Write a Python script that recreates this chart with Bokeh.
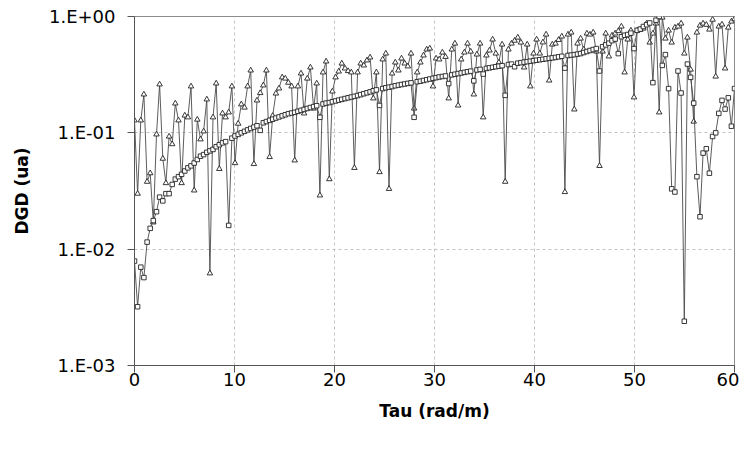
from bokeh.plotting import figure
from bokeh.models import Range1d, FixedTicker, CustomJSTickFormatter
from bokeh.embed import file_html
from bokeh.resources import INLINE

# Tau grid (rad/m)
TAU = [0.00, 0.31, 0.63, 0.94, 1.26, 1.57, 1.88, 2.20, 2.51, 2.83, 3.14, 3.46, 3.77, 4.08, 4.40, 4.71,
       5.03, 5.34, 5.65, 5.97, 6.28, 6.60, 6.91, 7.23, 7.54, 7.85, 8.17, 8.48, 8.80, 9.11, 9.42, 9.74,
       10.05, 10.37, 10.68, 11.00, 11.31, 11.62, 11.94, 12.25, 12.57, 12.88, 13.19, 13.51, 13.82, 14.14, 14.45, 14.77,
       15.08, 15.39, 15.71, 16.02, 16.34, 16.65, 16.96, 17.28, 17.59, 17.91, 18.22, 18.54, 18.85, 19.16, 19.48, 19.79,
       20.11, 20.42, 20.73, 21.05, 21.36, 21.68, 21.99, 22.31, 22.62, 22.93, 23.25, 23.56, 23.88, 24.19, 24.50, 24.82,
       25.13, 25.45, 25.76, 26.08, 26.39, 26.70, 27.02, 27.33, 27.65, 27.96, 28.27, 28.59, 28.90, 29.22, 29.53, 29.85,
       30.16, 30.47, 30.79, 31.10, 31.42, 31.73, 32.04, 32.36, 32.67, 32.99, 33.30, 33.62, 33.93, 34.24, 34.56, 34.87,
       35.19, 35.50, 35.81, 36.13, 36.44, 36.76, 37.07, 37.39, 37.70, 38.01, 38.33, 38.64, 38.96, 39.27, 39.58, 39.90,
       40.21, 40.53, 40.84, 41.16, 41.47, 41.78, 42.10, 42.41, 42.73, 43.04, 43.35, 43.67, 43.98, 44.30, 44.61, 44.92,
       45.24, 45.55, 45.87, 46.18, 46.50, 46.81, 47.12, 47.44, 47.75, 48.07, 48.38, 48.69, 49.01, 49.32, 49.64, 49.95,
       50.27, 50.58, 50.89, 51.21, 51.52, 51.84, 52.15, 52.47, 52.78, 53.09, 53.41, 53.72, 54.04, 54.35, 54.66, 54.98,
       55.29, 55.61, 55.92, 56.24, 56.55, 56.86, 57.18, 57.49, 57.81, 58.12, 58.43, 58.75, 59.06, 59.38, 59.69, 60.00]

# DGD, series with triangle markers
DGD_TRI = [0.128, 0.030, 0.128, 0.214, 0.038, 0.045, 0.017, 0.097, 0.261, 0.060, 0.037, 0.093, 0.080, 0.179, 0.128, 0.037,
           0.141, 0.136, 0.251, 0.032, 0.130, 0.088, 0.103, 0.194, 0.0062, 0.136, 0.266, 0.049, 0.147, 0.136, 0.150, 0.251,
           0.055, 0.120, 0.176, 0.165, 0.251, 0.344, 0.054, 0.190, 0.220, 0.256, 0.344, 0.062, 0.140, 0.218, 0.241, 0.300,
           0.293, 0.270, 0.251, 0.058, 0.251, 0.324, 0.147, 0.293, 0.365, 0.162, 0.266, 0.029, 0.331, 0.411, 0.040, 0.227,
           0.300, 0.337, 0.395, 0.358, 0.340, 0.331, 0.050, 0.331, 0.395, 0.380, 0.420, 0.445, 0.198, 0.331, 0.046, 0.428,
           0.481, 0.033, 0.324, 0.403, 0.344, 0.436, 0.395, 0.373, 0.481, 0.162, 0.331, 0.403, 0.463, 0.521, 0.531, 0.251,
           0.436, 0.428, 0.491, 0.450, 0.198, 0.521, 0.586, 0.172, 0.428, 0.491, 0.586, 0.500, 0.214, 0.472, 0.586, 0.136,
           0.463, 0.511, 0.635, 0.481, 0.403, 0.575, 0.038, 0.521, 0.586, 0.620, 0.660, 0.598, 0.365, 0.575, 0.251, 0.481,
           0.635, 0.481, 0.600, 0.701, 0.282, 0.575, 0.586, 0.630, 0.674, 0.031, 0.701, 0.729, 0.159, 0.586, 0.647, 0.521,
           0.715, 0.700, 0.729, 0.500, 0.052, 0.500, 0.715, 0.454, 0.687, 0.715, 0.750, 0.821, 0.331, 0.635, 0.758, 0.202,
           0.758, 0.770, 0.789, 0.871, 0.598, 0.715, 0.871, 0.150, 0.980, 0.647, 0.758, 0.598, 0.804, 0.821, 0.871, 0.481,
           0.660, 0.350, 0.125, 0.729, 0.837, 0.871, 0.850, 0.773, 0.940, 0.305, 0.821, 0.854, 0.358, 0.804, 0.906, 0.950]

# DGD, series with square markers
DGD_SQ = [0.0079, 0.0032, 0.0070, 0.0057, 0.0115, 0.0151, 0.0176, 0.021, 0.028, 0.026, 0.030, 0.030, 0.036, 0.040, 0.042, 0.044,
          0.047, 0.050, 0.052, 0.055, 0.059, 0.063, 0.065, 0.068, 0.070, 0.072, 0.076, 0.079, 0.082, 0.084, 0.016, 0.090,
          0.094, 0.097, 0.100, 0.103, 0.106, 0.109, 0.112, 0.115, 0.105, 0.122, 0.125, 0.128, 0.131, 0.134, 0.137, 0.140,
          0.143, 0.146, 0.148, 0.150, 0.153, 0.156, 0.159, 0.162, 0.165, 0.168, 0.171, 0.136, 0.177, 0.180, 0.182, 0.185,
          0.188, 0.191, 0.194, 0.197, 0.200, 0.203, 0.206, 0.209, 0.213, 0.217, 0.221, 0.225, 0.230, 0.234, 0.172, 0.240,
          0.244, 0.247, 0.250, 0.254, 0.257, 0.260, 0.263, 0.266, 0.269, 0.136, 0.275, 0.278, 0.282, 0.286, 0.290, 0.294,
          0.298, 0.302, 0.305, 0.308, 0.265, 0.315, 0.319, 0.323, 0.327, 0.331, 0.335, 0.339, 0.280, 0.347, 0.351, 0.320,
          0.358, 0.362, 0.366, 0.370, 0.374, 0.378, 0.210, 0.386, 0.390, 0.370, 0.397, 0.401, 0.405, 0.409, 0.413, 0.417,
          0.421, 0.425, 0.429, 0.433, 0.437, 0.441, 0.445, 0.450, 0.455, 0.360, 0.462, 0.466, 0.470, 0.475, 0.480, 0.490,
          0.500, 0.510, 0.520, 0.530, 0.340, 0.550, 0.570, 0.590, 0.620, 0.640, 0.480, 0.670, 0.690, 0.700, 0.720, 0.530,
          0.760, 0.780, 0.820, 0.850, 0.880, 0.270, 0.930, 1.000, 0.380, 0.470, 0.240, 0.033, 0.031, 0.340, 0.220, 0.0024,
          0.390, 0.300, 0.180, 0.042, 0.019, 0.067, 0.073, 0.045, 0.093, 0.100, 0.147, 0.190, 0.160, 0.200, 0.114, 0.240]

X_TICKS = [0, 10, 20, 30, 40, 50, 60]
Y_TICKS = [0.001, 0.01, 0.1, 1.0]
X_TITLE = "Tau (rad/m)"
Y_TITLE = "DGD (ua)"

FONT = "DejaVu Sans"

p = figure(width=739, height=442, y_axis_type="log",
           x_range=Range1d(0, 60), y_range=Range1d(0.001, 1.0),
           output_backend="svg", toolbar_location=None,
           min_border_left=134, min_border_right=5, min_border_top=16, min_border_bottom=77)

p.outline_line_color = "#8c8c8c"
p.outline_line_width = 1
p.background_fill_color = "white"
p.border_fill_color = "white"

# grids
for g in (p.xgrid, p.ygrid):
    g.grid_line_color = "#c4c4c4"
    g.grid_line_dash = "3 3"
    g.grid_line_width = 1
p.xgrid.ticker = FixedTicker(ticks=X_TICKS)
p.ygrid.ticker = FixedTicker(ticks=Y_TICKS)

# axes
p.xaxis.ticker = FixedTicker(ticks=X_TICKS)
p.yaxis.ticker = FixedTicker(ticks=Y_TICKS)
p.yaxis.formatter = CustomJSTickFormatter(code="""
const e = Math.round(Math.log10(tick));
return '1.E' + (e < 0 ? '-' : '+') + String(Math.abs(e)).padStart(2, '0');
""")
for ax in (p.xaxis, p.yaxis):
    ax.axis_line_color = "#555555"
    ax.axis_line_width = 1
    ax.major_tick_line_color = "#555555"
    ax.major_tick_out = 7
    ax.major_tick_in = 0
    ax.minor_tick_line_color = None
    ax.major_label_text_font = FONT
    ax.major_label_text_font_size = "18px"
    ax.major_label_text_color = "black"
    ax.axis_label_text_font = FONT
    ax.axis_label_text_font_size = "17px"
    ax.axis_label_text_font_style = "bold"
    ax.axis_label_text_color = "black"

p.xaxis.axis_label = X_TITLE
p.yaxis.axis_label = Y_TITLE
p.xaxis.major_label_standoff = 0
p.xaxis.axis_label_standoff = 12
p.yaxis.major_label_standoff = 12
p.yaxis.axis_label_standoff = 14

LINE = "#4a4a4a"
p.line(TAU, DGD_TRI, line_color=LINE, line_width=0.9)
p.scatter(TAU, DGD_TRI, marker="triangle", size=5.5, line_color="#222222", line_width=0.9, fill_color="white")
p.line(TAU, DGD_SQ, line_color=LINE, line_width=0.9)
p.scatter(TAU, DGD_SQ, marker="square", size=4.5, line_color="#222222", line_width=0.9, fill_color="white")

open("out.html", "w").write(file_html(p, INLINE))
